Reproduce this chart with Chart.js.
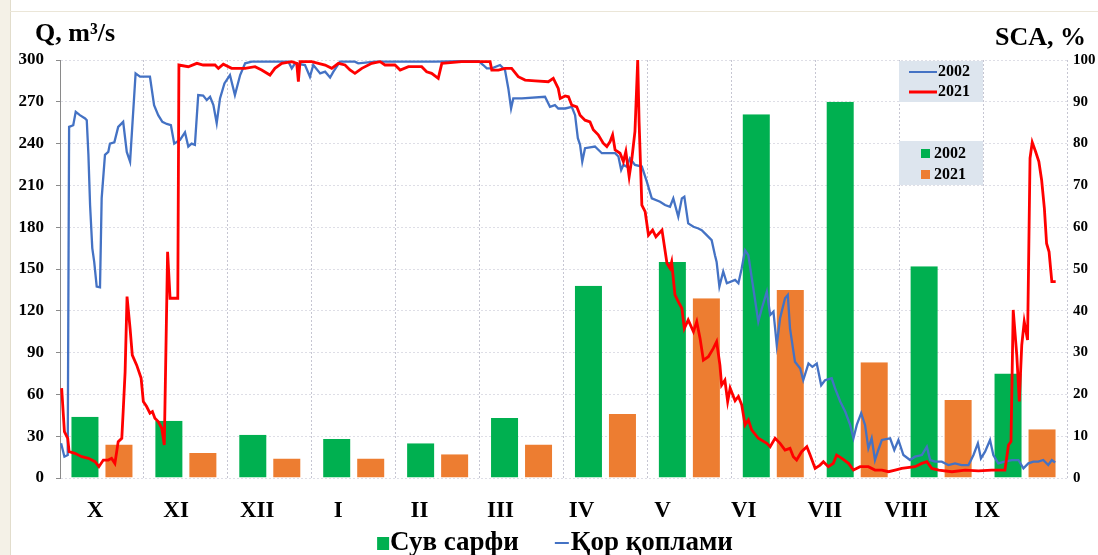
<!DOCTYPE html>
<html>
<head>
<meta charset="utf-8">
<script src="https://cdn.jsdelivr.net/npm/chart.js@4.4.1/dist/chart.umd.min.js"></script>
<style>
  html, body { margin: 0; padding: 0; background: #fff; }
  #wrap { position: relative; width: 1098px; height: 555px; }
  #chart { position: absolute; left: 0; top: 0; }
  #frameL { position: absolute; left: 0; top: 0; width: 10px; height: 555px; background: #f4f1e7; border-right: 1px solid #e2ddcc; }
  #frameT { position: absolute; left: 10px; top: 11px; width: 1088px; border-top: 1px solid #ebe6d8; }
</style>
</head>
<body>
<div id="wrap">
  <canvas id="chart" width="1098" height="555"></canvas>
  <div id="frameL"></div>
  <div id="frameT"></div>
</div>
<script>
// months of the hydrological year (Oct -> Sep)
const months = ['X', 'XI', 'XII', 'I', 'II', 'III', 'IV', 'V', 'VI', 'VII', 'VIII', 'IX'];
const yearDays = 365;

// water discharge, m3/s (bars, left axis)
const discharge2002 = [44, 41, 31, 28, 25, 43, 138, 155, 261, 270, 152, 75];
const discharge2021 = [24, 18, 14, 14, 17, 24, 46, 129, 135, 83, 56, 35];

// snow cover area, % : [day of hydrological year, value]
const sca2002 = [
  [0.4,8.3],[1.6,5.1],[2.8,5.5],[3.3,84],[4.8,84.4],[5.7,87.6],[7.2,86.8],[9.1,86],[9.7,85.6],[10.3,77.3],
  [10.9,65.3],[11.7,55],[12.4,51.7],[13.3,45.8],[14.5,45.6],[15.1,66.9],[16.3,77.3],[17.5,78],[18.1,80],[19.7,80.3],
  [21.1,84],[22.9,85.2],[24.2,78],[25.4,75.7],[27.4,96.8],[29,96],[32.6,96],[34.1,89.2],[35.6,86.8],[37.1,85.2],
  [38.7,84.7],[40.2,84.4],[41.4,80],[43.5,80.9],[45.3,82.7],[46.5,79.3],[47.7,80],[48.9,79.7],[50.1,91.6],[51.9,91.5],
  [53.2,90.4],[54.4,91.2],[55.6,89.2],[56.8,84.9],[58,90.8],[59.6,94.4],[61.6,96.4],[63.4,91.6],[65.3,96.4],[67.1,99.2],
  [69.5,99.6],[75.4,99.6],[82.8,99.6],[84,98],[85.2,99.2],[88.8,98.8],[90.6,96],[91.8,98.8],[94.3,96.8],[96.1,97.2],
  [97.9,95.8],[99.1,97.2],[101.5,99.6],[106.9,99.6],[108.1,99.2],[114.2,99.6],[135.9,99.6],[151.6,99.8],[153.4,98.8],[154.7,98],
  [156.5,98],[159.5,98.8],[161.3,97.6],[162.5,93.2],[163.5,88.4],[164.3,90.8],[167.4,90.8],[175.8,91.2],[177.6,88.8],[179.4,89.2],
  [180.6,88.4],[183.1,88.4],[185.5,88.8],[186.7,86.8],[187.7,81.3],[188.5,79.7],[189.3,75.7],[190.3,78.9],[193.9,79.3],[196.4,77.7],
  [201.2,77.7],[202.4,76.9],[203.4,73.7],[204.2,74.9],[205.4,74.5],[206.6,76.5],[208.4,74.9],[210.9,74.5],[212.7,70.9],[214.5,66.9],
  [217.5,66.1],[219.3,65.3],[221.1,64.9],[222.3,66.9],[224.1,62.5],[225.4,66.9],[226.3,67.3],[227.7,60.9],[229.6,60.1],[231.4,59.7],
  [232.6,59.3],[234.4,58.1],[236.2,56.9],[237.4,53.3],[238,51.7],[239,45.8],[240.4,49.4],[241.7,46.6],[244.7,47.4],[245.9,46.6],
  [247.1,50.2],[248.3,54.5],[249.5,53.3],[251.3,45.4],[253.1,37.4],[254.4,40.6],[256.2,44.6],[257.4,39],[258.6,39.8],[259.8,31.8],
  [261,38.2],[262.8,43],[263.8,43.8],[264.6,35.8],[266.4,27.8],[268.3,26.2],[269.4,23.4],[271.3,27.4],[272.7,26.6],[274.3,27.4],
  [275.9,22.2],[277.3,23.4],[279.7,23.9],[280.9,21.5],[282.8,18.3],[284.6,15.9],[286.4,12.7],[287.6,9.5],[288.8,12.7],[290.4,15.5],
  [291.8,12.7],[293,7.1],[294.2,9.5],[295.4,4.3],[296.6,6.7],[297.9,9.1],[300.9,9.5],[302.4,6.7],[303.9,9.1],[305.7,5.5],
  [308.1,4.3],[309.9,5.1],[312.4,5.5],[314.2,7.5],[315.4,4.3],[317.2,3.9],[319.6,3.9],[322,3.1],[324.4,3.5],[326.8,3.1],
  [329.3,3.1],[331.1,5.5],[332.7,8.3],[333.8,4.7],[335.3,6.3],[337.1,9.1],[338.3,5.5],[340.1,3.5],[342.5,3.9],[345,4.3],
  [347.4,4.3],[349.2,2.3],[351,3.5],[352.8,3.9],[354.6,3.9],[356.4,4.3],[358.2,3.1],[359.5,4.3],[360.7,3.7]
];
const sca2021 = [
  [0.6,21.5],[1.6,11.1],[2.8,9.5],[3.3,6.3],[5.4,5.9],[7.9,5.1],[10.3,4.7],[12.7,3.9],[14.1,2.7],[15.7,4.3],
  [17.5,4.3],[18.7,4.7],[19.9,3.5],[21.1,8.7],[22.4,9.5],[22.9,15.9],[23.6,25.4],[24.3,43.4],[25.4,35.8],[26.2,29.4],
  [27.8,27],[29.4,23.9],[30.2,18.3],[31.4,17.1],[32.6,15.5],[33.5,15.9],[34.4,14.3],[35.6,13.5],[36.9,11.9],[37.8,7.9],
  [39,54.1],[39.9,43],[42.7,43],[43.1,98.8],[46.5,98.4],[49.6,99.2],[51.9,98.8],[56.2,98.8],[57.4,98],[59.2,99],
  [62.2,98],[67.1,98],[70.7,98.4],[73.1,97.6],[76.1,96.4],[77.9,98],[80.4,99.2],[84,99.6],[85.8,99.2],[86.4,94.8],
  [87,99.6],[91.2,99.6],[96.1,98.8],[98.5,98],[100.9,99.2],[103.3,98.8],[105.1,97.6],[106.9,96.8],[109.4,98],[113,99.2],
  [116,99.6],[117.8,98.8],[121.4,98.8],[123.3,97.6],[126.3,98.4],[131.1,98.4],[132.9,97.2],[134.7,96.8],[137.1,95.6],[138.4,99.2],
  [145.6,99.6],[155.9,99.6],[156.5,97.6],[158.9,97.6],[161.3,98],[163.7,98],[166.1,96],[168.6,95.2],[172.2,95],[177,94.8],
  [178.8,95.6],[180.6,93.2],[181.3,90.8],[183.1,91.4],[184.3,91.2],[185.5,89.2],[187.3,88.8],[188.5,86.8],[190.3,85.6],[192.1,85.2],
  [193.3,83.3],[195.1,82.1],[196.9,80.1],[198.2,79.3],[199.4,80.5],[200.3,82.1],[201.2,78.5],[203,77.7],[204.2,75.7],[205.1,78.1],
  [206.3,72.1],[207.3,76.5],[208.4,82.9],[209.4,100],[209.9,85.2],[210.9,65.3],[212.1,63.7],[213.3,58.1],[214.8,59.3],[216,57.7],
  [218.2,59.3],[220,51.4],[221.1,50.2],[221.7,51.7],[222.9,43.8],[224.1,42.2],[225.4,40.6],[226.3,35.8],[227.7,37.8],[229.6,35],
  [230.8,37.4],[232,33.4],[233.2,28.2],[235,29],[236.8,31],[238,32.6],[239.2,27],[239.8,22.2],[241,23.4],[242,18.3],
  [242.9,21.5],[244.7,18.5],[245.9,19.5],[247.1,17.5],[248.3,12.7],[249.5,13.9],[250.7,11.5],[253.1,9.5],[256.2,8.3],[257.4,7.5],
  [259.2,9.5],[261,8.3],[262.8,6.7],[264.6,7.1],[265.8,5.1],[267,4.3],[268.8,6.3],[270.7,7.5],[271.9,5.5],[273.7,2.3],
  [275.5,3.1],[276.7,3.9],[278.5,2.7],[280.3,3.5],[281.5,5.5],[283.4,4.7],[285.8,3.5],[287.6,1.9],[290,2.7],[293,2.7],
  [295.4,1.9],[297.9,1.9],[300.3,1.5],[302.7,1.9],[305.1,2.3],[309.9,2.7],[312.4,3.5],[314.2,3.9],[316,2.3],[318.5,1.9],
  [323.3,1.5],[328.1,1.9],[332.9,1.7],[337.7,1.9],[342.5,1.9],[343.8,7.9],[344.7,8.7],[345.5,40.2],[346.8,29.4],[347.7,18.3],
  [348.6,31.8],[349.5,37.4],[350.7,33],[351.6,76.5],[352.4,80.3],[353.6,78.1],[354.8,75.7],[355.8,71.3],[356.8,64.5],[357.6,56.1],
  [358.5,54.1],[359.5,47],[360.9,47]
];

const serif = "'Liberation Serif', 'Times New Roman', serif";
const GREEN = '#00b050', ORANGE = '#ed7d31', BLUE = '#4472c4', RED = '#ff0000';
const monthLen = yearDays / months.length;

const toPoints = arr => arr.map(p => ({ x: p[0], y: p[1] }));
// one bar per month, placed at the middle of that month on the shared day axis
const toMonthBars = vals => vals.map((v, i) => ({ x: (i + 0.5) * monthLen, y: v }));

// axis titles above the two y axes
const axisTitles = {
  id: 'axisTitles',
  afterDraw(chart) {
    const c = chart.ctx;
    c.save();
    c.fillStyle = '#000';
    c.font = 'bold 26px ' + serif;
    c.textBaseline = 'alphabetic';
    c.textAlign = 'left';
    c.fillText('Q, m³/s', 35, 41);
    c.textAlign = 'right';
    c.fillText('SCA, %', 1086, 45);
    c.restore();
  }
};

// the two small shaded legends inside the plot, and the legend below it
const legends = {
  id: 'legends',
  afterDraw(chart) {
    const c = chart.ctx;
    c.save();
    c.fillStyle = '#dde5ee';
    c.fillRect(899, 61, 84, 41);
    c.fillRect(899, 141, 84, 44);

    c.font = 'bold 16px ' + serif;
    c.textBaseline = 'middle';
    c.textAlign = 'left';
    c.lineWidth = 2;
    c.strokeStyle = BLUE;
    c.beginPath(); c.moveTo(909, 72); c.lineTo(937, 72); c.stroke();
    c.lineWidth = 3;
    c.strokeStyle = RED;
    c.beginPath(); c.moveTo(909, 92); c.lineTo(937, 92); c.stroke();
    c.fillStyle = '#000';
    c.fillText('2002', 938, 72);
    c.fillText('2021', 938, 92);

    c.fillStyle = GREEN; c.fillRect(921, 149, 9, 9);
    c.fillStyle = ORANGE; c.fillRect(921, 170, 9, 9);
    c.fillStyle = '#000';
    c.fillText('2002', 934, 154);
    c.fillText('2021', 934, 175);

    // bottom legend
    const y = 543;
    c.font = 'bold 27px ' + serif;
    const t1 = 'Сув сарфи', t2 = 'Қор қоплами';
    const w1 = c.measureText(t1).width, w2 = c.measureText(t2).width;
    const total = 13 + w1 + 36 + 16 + w2;
    let x = 555 - total / 2;
    c.fillStyle = GREEN; c.fillRect(x, y - 6, 12, 13);
    c.fillStyle = '#000'; c.fillText(t1, x + 13, y);
    x += 13 + w1 + 36;
    c.strokeStyle = BLUE; c.lineWidth = 2;
    c.beginPath(); c.moveTo(x, y); c.lineTo(x + 14, y); c.stroke();
    c.fillText(t2, x + 16, y);
    c.restore();
  }
};

// bars: fixed slot, transparent side borders leave the gap between the pair
const barStyle = {
  xAxisID: 'x', yAxisID: 'y', order: 2,
  barThickness: 34,
  borderWidth: { left: 3.5, right: 3.5, top: 0, bottom: 0 },
  borderColor: 'rgba(0,0,0,0)',
  inflateAmount: 0
};

const ctx = document.getElementById('chart').getContext('2d');
new Chart(ctx, {
  type: 'bar',
  data: {
    datasets: [
      Object.assign({ label: 'Q 2002', data: toMonthBars(discharge2002), backgroundColor: GREEN }, barStyle),
      Object.assign({ label: 'Q 2021', data: toMonthBars(discharge2021), backgroundColor: ORANGE }, barStyle),
      { type: 'line', label: 'SCA 2021', data: toPoints(sca2021), xAxisID: 'x', yAxisID: 'y2',
        borderColor: RED, borderWidth: 2.8, pointRadius: 0, tension: 0, order: 0 },
      { type: 'line', label: 'SCA 2002', data: toPoints(sca2002), xAxisID: 'x', yAxisID: 'y2',
        borderColor: BLUE, borderWidth: 2.3, pointRadius: 0, tension: 0, order: 1 }
    ]
  },
  options: {
    responsive: false,
    animation: false,
    layout: { padding: { top: 60, left: 0, right: 0, bottom: 27 } },
    plugins: { legend: { display: false }, tooltip: { enabled: false } },
    scales: {
      // shared day axis: month boundaries as dotted grid lines
      x: {
        type: 'linear', position: 'bottom', offset: false, bounds: 'data', min: 0, max: yearDays,
        afterBuildTicks: s => {
          s.ticks = months.concat(['']).map((m, i) => ({ value: i * monthLen }));
          s.min = 0;
          s.max = yearDays;
        },
        afterFit: s => { s.height = 0; },
        grid: { offset: false, color: '#c6c6d2', drawTicks: false },
        border: { display: false, dash: [2, 2] },
        ticks: { display: false }
      },
      // month labels row
      xm: {
        type: 'linear', position: 'bottom', offset: false, bounds: 'data',
        afterBuildTicks: s => {
          s.ticks = months.map((m, i) => ({ value: i }));
          s.min = -0.4316;
          s.max = 11.986;
        },
        afterFit: s => { s.height = 50; },
        grid: { display: false, drawTicks: false, offset: false },
        border: { display: false },
        ticks: {
          autoSkip: false, maxRotation: 0, padding: 19, color: '#000',
          font: { family: serif, size: 23, weight: 'bold' },
          callback: v => months[v]
        }
      },
      y: {
        position: 'left', min: 0, max: 300, stacked: false,
        afterFit: s => { s.width = 60; },
        grid: { color: '#dedee6', tickColor: '#8a8a8a', tickLength: 4 },
        border: { display: true, color: '#8a8a8a', dash: [2, 2] },
        ticks: { stepSize: 30, padding: 12, color: '#000', font: { family: serif, size: 17, weight: 'bold' } }
      },
      y2: {
        position: 'right', min: 0, max: 100, stacked: false,
        afterFit: s => { s.width = 31; },
        grid: { display: false, drawTicks: false },
        border: { display: false },
        ticks: { stepSize: 10, padding: 6, color: '#000', font: { family: serif, size: 15, weight: 'bold' } }
      }
    }
  },
  plugins: [axisTitles, legends]
});
</script>
</body>
</html>
